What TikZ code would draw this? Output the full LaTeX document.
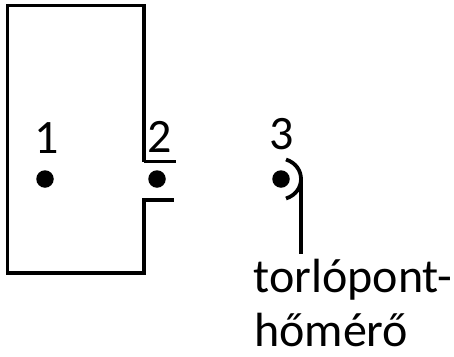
\documentclass[tikz,border=0pt]{standalone}
\usepackage{fontspec}
\setmainfont{Carlito}
\begin{document}
\begin{tikzpicture}[x=1pt,y=-1pt,
  wall/.style={line width=3.8pt,line join=miter},
  pointdot/.style={circle,fill=black,draw=none,minimum size=17.5pt,inner sep=0pt},
  lab/.style={anchor=base west,inner sep=0pt,font=\fontsize{48}{56}\selectfont}]
\useasboundingbox (0,0) rectangle (454,356);
\draw[wall] (144,161.5) -- (144,5.5) -- (7.5,5.5) -- (7.5,273) -- (144,273) -- (144,200) -- (174,200);
\draw[wall] (144,161.5) -- (176,161.5);
\node[pointdot] (p1) at (45,179) {};
\node[pointdot] (p2) at (157,179) {};
\node[pointdot] (p3) at (281,179) {};
\coordinate (a1) at (286,159.5);
\coordinate (a2) at (286,198.5);
\coordinate (s1) at (301,178);
\coordinate (s2) at (301,254);
\draw[wall] (a1) .. controls (306,166) and (306,192) .. (a2);
\draw[wall] (s1) -- (s2);
\node[lab] (l1) at (34,153) {1};
\node[lab] (l2) at (147,152) {2};
\node[lab] (l3) at (269,149) {3};
\node[lab] (t1) at (253.5,292) {torlópont-};
\node[lab] (t2) at (254,346) {hőmérő};
\end{tikzpicture}
\end{document}
